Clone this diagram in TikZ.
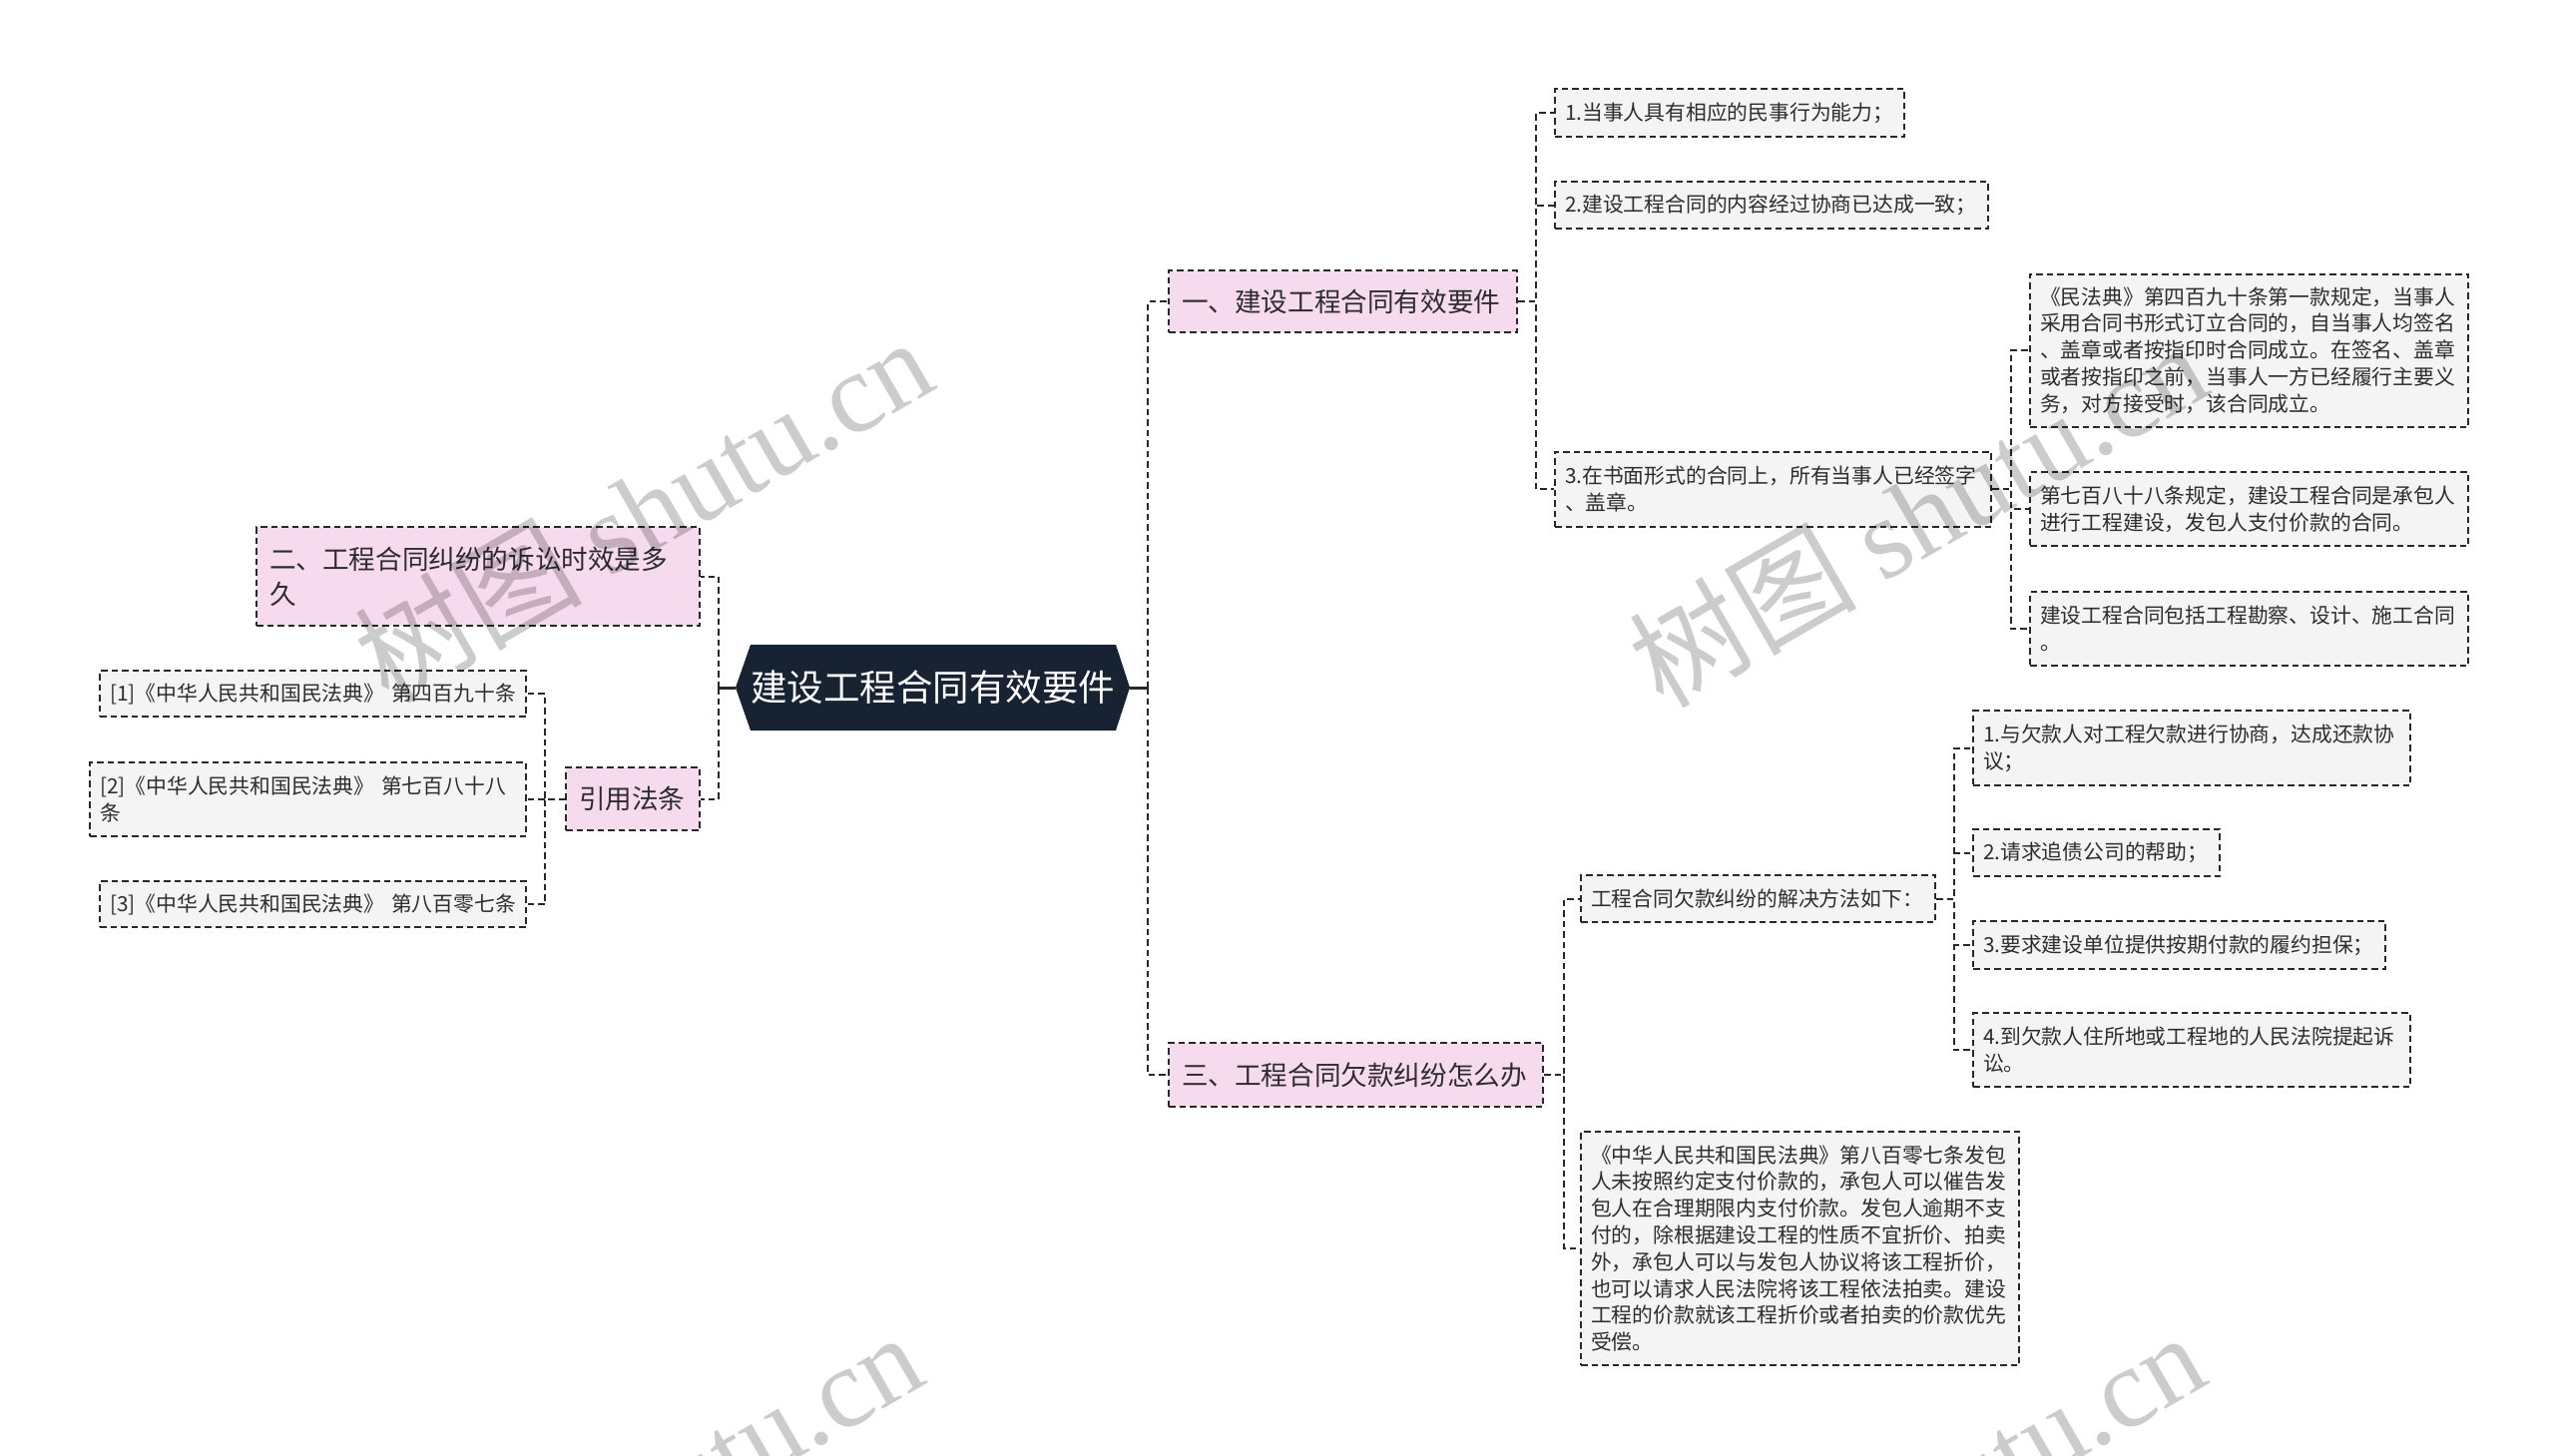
\documentclass[tikz,border=0pt]{standalone}
\usepackage{fontspec}
\setmainfont{Noto Sans CJK SC}
\newfontfamily\wmlatin{Liberation Serif}
\definecolor{rootfill}{RGB}{23,35,51}
\definecolor{pinkfill}{RGB}{246,218,238}
\definecolor{leaffill}{RGB}{244,244,244}
\definecolor{linecol}{RGB}{40,40,40}
\definecolor{txt}{RGB}{45,45,45}
\tikzset{
  dashline/.style={draw=linecol, line width=2pt, dash pattern=on 6.5pt off 4pt},
  mmbox/.style={dashline, anchor=west, align=left, text=txt, inner ysep=0pt},
  pinkbox/.style={mmbox, fill=pinkfill, inner xsep=13pt, font=\fontsize{26.6}{35}\selectfont},
  leafbox/.style={mmbox, fill=leaffill, inner xsep=10pt, font=\fontsize{20.8}{26.8}\selectfont},
  conn/.style={dashline},
  rootlink/.style={draw=linecol, line width=3pt},
  wm/.style={text=black, opacity=0.2, font=\fontsize{114}{114}\selectfont, rotate=30, inner sep=0pt},
}
\begin{document}
\begin{tikzpicture}[x=1pt, y=-1pt]
\useasboundingbox (0,0) rectangle (2560,1459);
\fill[white] (0,0) rectangle (2560,1459);

% root
\fill[rootfill] (737,689) -- (752,646) -- (1118,646) -- (1132,689) -- (1118,732) -- (752,732) -- cycle;
\node[text=white, font=\fontsize{36.5}{44}\selectfont, inner sep=0pt] (root) at (934.5,689) {建设工程合同有效要件};
\coordinate (rootW) at (737,689);
\coordinate (rootE) at (1132,689);
\coordinate (jL) at (720,689);
\coordinate (jR) at (1150,689);

% level 1
\node[pinkbox, text width=323pt, minimum height=62pt] (A) at (1170,302) {一、建设工程合同有效要件};
\node[pinkbox, text width=349pt, minimum height=64pt] (B) at (1170,1077) {三、工程合同欠款纠纷怎么办};
\node[pinkbox, text width=418pt, minimum height=99pt] (C) at (256,577.5) {二、工程合同纠纷的诉讼时效是多\\久};
\node[pinkbox, text width=108pt, minimum height=63pt] (D) at (566,800.5) {引用法条};

% children of A
\node[leafbox, text width=330pt, minimum height=48pt] (A1) at (1557,113) {1.当事人具有相应的民事行为能力；};
\node[leafbox, text width=414pt, minimum height=47pt] (A2) at (1557,205.5) {2.建设工程合同的内容经过协商已达成一致；};
\node[leafbox, text width=417pt, minimum height=75pt] (A3) at (1557,490) {3.在书面形式的合同上，所有当事人已经签字\\、盖章。};

% children of A3
\node[leafbox, text width=419pt, minimum height=153pt] (A3a) at (2033,351) {《民法典》第四百九十条第一款规定，当事人\\采用合同书形式订立合同的，自当事人均签名\\、盖章或者按指印时合同成立。在签名、盖章\\或者按指印之前，当事人一方已经履行主要义\\务，对方接受时，该合同成立。};
\node[leafbox, text width=419pt, minimum height=74pt] (A3b) at (2033,510) {第七百八十八条规定，建设工程合同是承包人\\进行工程建设，发包人支付价款的合同。};
\node[leafbox, text width=419pt, minimum height=74pt] (A3c) at (2033,630) {建设工程合同包括工程勘察、设计、施工合同\\。};

% children of B
\node[leafbox, text width=335pt, minimum height=47pt] (B1) at (1583,900.5) {工程合同欠款纠纷的解决方法如下：};
\node[leafbox, text width=419pt, minimum height=234pt] (B2) at (1583,1251) {《中华人民共和国民法典》第八百零七条发包\\人未按照约定支付价款的，承包人可以催告发\\包人在合理期限内支付价款。发包人逾期不支\\付的，除根据建设工程的性质不宜折价、拍卖\\外，承包人可以与发包人协议将该工程折价，\\也可以请求人民法院将该工程依法拍卖。建设\\工程的价款就该工程折价或者拍卖的价款优先\\受偿。};

% children of B1
\node[leafbox, text width=418pt, minimum height=75pt] (B1a) at (1976,749.5) {1.与欠款人对工程欠款进行协商，达成还款协\\议；};
\node[leafbox, text width=227pt, minimum height=47pt] (B1b) at (1976,854.5) {2.请求追债公司的帮助；};
\node[leafbox, text width=393pt, minimum height=48pt] (B1c) at (1976,947) {3.要求建设单位提供按期付款的履约担保；};
\node[leafbox, text width=418pt, minimum height=74pt] (B1d) at (1976,1052) {4.到欠款人住所地或工程地的人民法院提起诉\\讼。};

% children of D
\node[leafbox, text width=407pt, minimum height=46pt] (L1) at (99,695) {[1]《中华人民共和国民法典》~第四百九十条};
\node[leafbox, text width=417pt, minimum height=74pt] (L2) at (89,801) {[2]《中华人民共和国民法典》~第七百八十八\\条};
\node[leafbox, text width=407pt, minimum height=46pt] (L3) at (99,906) {[3]《中华人民共和国民法典》~第八百零七条};

% connectors
\draw[rootlink] (rootE) -- (jR);
\draw[rootlink] (rootW) -- (jL);
\draw[conn] (jR) |- (A.west);
\draw[conn] (jR) |- (B.west);
\draw[conn] (jL) |- (C.east);
\draw[conn] (jL) |- (D.east);
\foreach \c in {A1,A2,A3} \draw[conn] (A.east) -- ++(18,0) |- (\c.west);
\foreach \c in {A3a,A3b,A3c} \draw[conn] (A3.east) -- ++(19,0) |- (\c.west);
\foreach \c in {B1,B2} \draw[conn] (B.east) -- ++(20,0) |- (\c.west);
\foreach \c in {B1a,B1b,B1c,B1d} \draw[conn] (B1.east) -- ++(18,0) |- (\c.west);
\foreach \c in {L1,L2,L3} \draw[conn] (D.west) -- ++(-20,0) |- (\c.east);

% watermarks
\begin{scope}
\clip (0,0) rectangle (2560,1459);
\node[wm] (wm1) at (644,510) {树图 {\wmlatin shutu.cn}};
\node[wm] (wm2) at (1921,515) {树图 {\wmlatin shutu.cn}};
\node[wm] (wm3) at (634,1507) {树图 {\wmlatin shutu.cn}};
\node[wm] (wm4) at (1919,1507) {树图 {\wmlatin shutu.cn}};
\end{scope}
\end{tikzpicture}
\end{document}
